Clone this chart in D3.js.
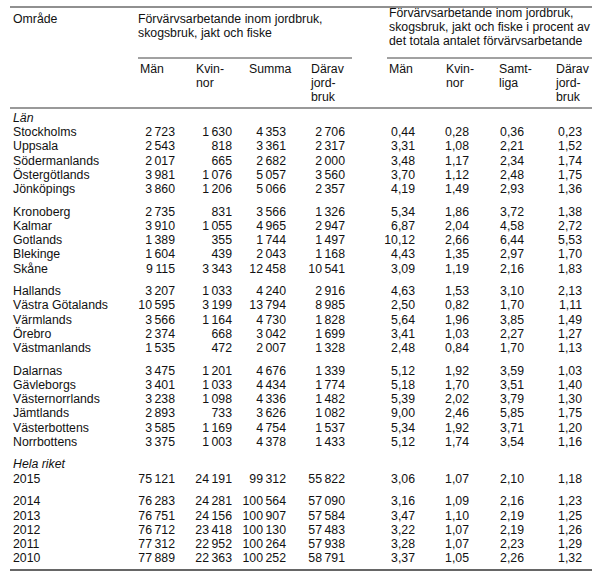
<!DOCTYPE html>
<html><head><meta charset="utf-8">
<script src="https://cdn.jsdelivr.net/npm/d3@7"></script>
<style>body{margin:0;background:#fff}text{font-family:"Liberation Sans",Arial,sans-serif;font-size:12.3px;fill:#111}</style>
</head><body><svg id="c" width="598" height="576"></svg>
<script>
const regions=["Stockholms","Uppsala","Södermanlands","Östergötlands","Jönköpings","Kronoberg","Kalmar","Gotlands","Blekinge","Skåne","Hallands","Västra Götalands","Värmlands","Örebro","Västmanlands","Dalarnas","Gävleborgs","Västernorrlands","Jämtlands","Västerbottens","Norrbottens"];
const years=["2015","2014","2013","2012","2011","2010"];
const man=[2723,2543,2017,3981,3860,2735,3910,1389,1604,9115,3207,10595,3566,2374,1535,3475,3401,3238,2893,3585,3375,75121,76283,76751,76712,77312,77889];
const kvinnor=[1630,818,665,1076,1206,831,1055,355,439,3343,1033,3199,1164,668,472,1201,1033,1098,733,1169,1003,24191,24281,24156,23418,22952,22363];
const summa=[4353,3361,2682,5057,5066,3566,4965,1744,2043,12458,4240,13794,4730,3042,2007,4676,4434,4336,3626,4754,4378,99312,100564,100907,100130,100264,100252];
const jordbruk=[2706,2317,2000,3560,2357,1326,2947,1497,1168,10541,2916,8985,1828,1699,1328,1339,1774,1482,1082,1537,1433,55822,57090,57584,57483,57938,58791];
const pctMan=[0.44,3.31,3.48,3.70,4.19,5.34,6.87,10.12,4.43,3.09,4.63,2.50,5.64,3.41,2.48,5.12,5.18,5.39,9.00,5.34,5.12,3.06,3.16,3.47,3.22,3.28,3.37];
const pctKvinnor=[0.28,1.08,1.17,1.12,1.49,1.86,2.04,2.66,1.35,1.19,1.53,0.82,1.96,1.03,0.84,1.92,1.70,2.02,2.46,1.92,1.74,1.07,1.09,1.10,1.07,1.07,1.05];
const pctSamt=[0.36,2.21,2.34,2.48,2.93,3.72,4.58,6.44,2.97,2.16,3.10,1.70,3.85,2.27,1.70,3.59,3.51,3.79,5.85,3.71,3.54,2.10,2.16,2.19,2.19,2.23,2.26];
const pctJord=[0.23,1.52,1.74,1.75,1.36,1.38,2.72,5.53,1.70,1.83,2.13,1.11,1.49,1.27,1.13,1.03,1.40,1.30,1.75,1.20,1.16,1.18,1.23,1.25,1.26,1.29,1.32];
const svg=d3.select("#c");
const intF=v=>d3.format(",")(v).replace(/,/g,"\u2009");
const decF=v=>d3.format(".2f")(v).replace(".",",");
const labels=regions.concat(years);
const grp=i=>i<5?0:i<10?1:i<15?2:i<21?3:i===21?4:5;
const rows=labels.map((l,i)=>({l,i,slot:i<21?i:i+1,g:grp(i)}));
const y=d3.scaleLinear().domain([0,1]).range([133,147.2]);
const gap=8.5;
const yy=(slot,g)=>y(slot)+g*gap;
const cols=[{x:175,v:man,f:intF},{x:232,v:kvinnor,f:intF},{x:286,v:summa,f:intF},{x:345,v:jordbruk,f:intF},{x:415,v:pctMan,f:decF},{x:469,v:pctKvinnor,f:decF},{x:524,v:pctSamt,f:decF},{x:582,v:pctJord,f:decF}];
const line=(x1,x2,yv,c,w)=>svg.append("line").attr("x1",x1).attr("x2",x2).attr("y1",yv).attr("y2",yv).attr("stroke",c).attr("stroke-width",w);
line(10,592,7,"#222",1.2);line(138,352,58,"#444",1);line(387,592,58,"#444",1);line(10,592,108,"#999",2);line(10,592,570,"#333",1.5);
const t=(x,yv,s,o={})=>svg.append("text").attr("x",x).attr("y",yv).attr("dominant-baseline","middle").attr("text-anchor",o.a||"start").style("font-style",o.i?"italic":null).text(s);
t(13,20,"Område");
t(138,20,"Förvärvsarbetande inom jordbruk,");t(138,34,"skogsbruk, jakt och fiske");
t(389,14,"Förvärvsarbetande inom jordbruk,");t(389,28,"skogsbruk, jakt och fiske i  procent av");t(389,42,"det totala antalet förvärvsarbetande");
const hdr=[[140,["Män"]],[196,["Kvin-","nor"]],[249,["Summa"]],[311,["Därav","jord-","bruk"]],[389,["Män"]],[446,["Kvin-","nor"]],[499,["Samt-","liga"]],[556,["Därav","jord-","bruk"]]];
hdr.forEach(([x,ls])=>ls.forEach((s,k)=>t(x,70+k*14,s)));
t(13,y(-1),"Län",{i:1});
t(13,yy(21,4),"Hela riket",{i:1});
rows.forEach(r=>{const yv=yy(r.slot,r.g);t(13,yv,r.l);cols.forEach(c=>t(c.x,yv,c.f(c.v[r.i]),{a:"end"}));});
</script></body></html>
